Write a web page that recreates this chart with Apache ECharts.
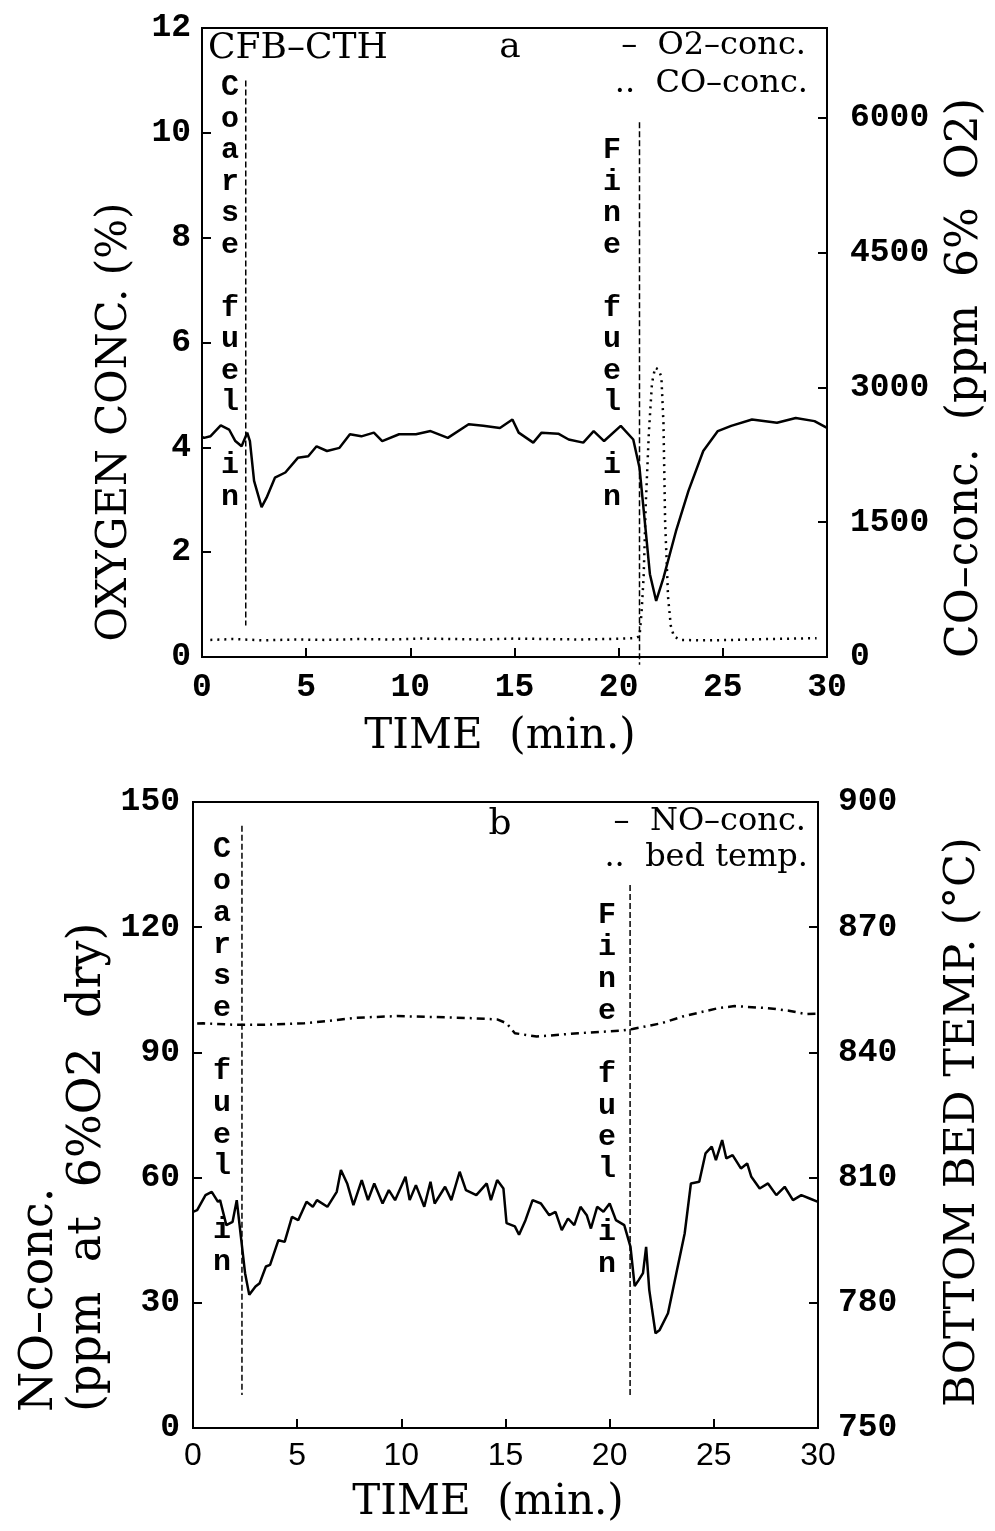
<!DOCTYPE html>
<html><head><meta charset="utf-8">
<script src="https://cdn.jsdelivr.net/npm/echarts@6/dist/echarts.min.js"></script>
<style>html,body{margin:0;padding:0;background:#fff}#c{width:995px;height:1531px}</style>
</head><body><div id="c"></div>
<script>
// ---------- DATA ----------
// Panel a: O2 concentration (%) vs time (min)
const o2Time  = [0,0.1,0.4,0.9,1.3,1.6,1.9,2.17,2.3,2.5,2.86,3.1,3.5,4.0,4.6,5.1,5.5,6.0,6.6,7.1,7.65,8.25,8.65,9.46,10.27,10.97,11.8,12.8,13.5,14.3,14.9,15.2,15.9,16.3,17.1,17.6,18.3,18.8,19.3,20.1,20.7,21.0,21.3,21.5,21.8,22.15,22.75,23.35,24.06,24.76,25.4,26.4,27.6,28.5,29.4,30.0];
const o2Value = [4.2,4.18,4.21,4.42,4.34,4.12,4.02,4.28,4.12,3.36,2.86,3.04,3.42,3.52,3.80,3.83,4.02,3.93,3.99,4.25,4.21,4.28,4.12,4.25,4.25,4.31,4.18,4.44,4.41,4.37,4.53,4.28,4.09,4.28,4.26,4.15,4.09,4.31,4.12,4.41,4.15,3.61,2.40,1.58,1.07,1.51,2.40,3.17,3.93,4.31,4.41,4.53,4.47,4.56,4.50,4.37];
// Panel a: CO concentration (ppm at 6% O2)
const coTime  = [0.4,1.5,3,4.5,6,7.5,9,10.5,12,13.5,15,16.5,18,19.5,20.8,21.0,21.1,21.2,21.3,21.45,21.6,21.75,21.9,22.05,22.15,22.23,22.37,22.5,22.65,22.95,24,25.5,27,28.5,29.5];
const coValue = [190,200,185,195,190,200,195,205,200,195,205,200,195,200,210,230,500,900,1700,2500,3050,3220,3200,3120,2600,1500,670,350,230,190,185,190,200,205,210];
// Fuel feed markers, panel a  [time, top, bottom]
const fuelTimeA   = [2.1, 21.0];
const fuelTopA    = [11.0, 10.2];
const fuelBottomA = [0.6, -0.15];

// Panel b: NO concentration (ppm at 6% O2 dry)
const noTime  = [0,0.2,0.6,0.9,1.2,1.3,1.6,1.9,2.1,2.3,2.5,2.7,3.0,3.2,3.5,3.7,4.1,4.4,4.75,5.05,5.45,5.75,5.95,6.45,6.9,7.1,7.4,7.7,8.1,8.4,8.7,9.1,9.4,9.7,10.2,10.4,10.7,11.1,11.4,11.6,12.1,12.4,12.8,13.1,13.6,14.1,14.3,14.6,14.9,15.05,15.45,15.65,15.96,16.3,16.7,17.1,17.4,17.7,18.0,18.3,18.6,18.9,19.1,19.4,19.7,20.0,20.3,20.7,21.0,21.2,21.4,21.6,21.75,21.9,22.2,22.4,22.8,23.2,23.6,23.9,24.3,24.6,24.9,25.1,25.4,25.6,25.9,26.3,26.6,26.8,27.2,27.6,28.0,28.4,28.8,29.2,29.6,30.0];
const noValue = [51.8,52.2,55.8,56.6,54.2,54.6,48.6,49.4,54.6,45.8,37.1,31.9,33.9,34.7,38.7,39.1,45.0,44.6,50.6,49.8,54.2,53.0,54.6,53.0,56.6,61.8,58.6,53.4,59.4,54.6,58.6,53.8,57.0,54.6,60.2,54.6,58.2,53.0,59.0,53.8,57.8,54.6,61.4,57.0,55.8,58.6,54.6,59.4,57.4,49.1,48.3,46.3,49.8,54.6,53.8,51.0,51.8,47.4,50.2,48.6,53.0,51.0,47.8,53.0,51.8,53.8,49.8,48.6,43.4,34.0,35.5,37.1,43.4,33.1,22.7,23.5,27.5,37.1,46.6,58.6,59.0,65.8,67.4,64.2,69.0,64.6,65.4,62.2,63.4,60.2,57.4,58.6,55.8,57.8,54.6,55.8,55.0,54.2];
// Panel b: bottom bed temperature (deg C)
const tempTime  = [0.2,0.5,2.1,3.3,5.35,6.4,7.8,9.8,11.4,13.4,14.6,15.05,15.45,16.5,18.5,20.5,21.1,22.5,23.5,25.2,26.0,27.6,28.6,29.4,30.0];
const tempValue = [846.9,846.97,846.6,846.6,847.0,847.5,848.3,848.7,848.5,848.2,847.9,847.0,844.6,843.8,844.6,845.2,845.6,847.0,848.6,850.6,851.1,850.6,850.0,849.2,849.3];
// Fuel feed markers, panel b
const fuelTimeB   = [2.35, 20.98];
const fuelTopB    = [144.3, 130.1];
const fuelBottomB = [7.9, 7.4];

// Tick settings
const xTicks = {min:0, max:30, interval:5};
const o2Axis = {min:0, max:12, interval:2};
const coAxis = {min:0, max:7000, interval:1500};
const noAxis = {min:0, max:150, interval:30};
const tAxis  = {min:750, max:900, interval:30};

// ---------- CHART ----------
const zip = (a,b) => a.map((v,i)=>[v,b[i]]);
const plain = v => String(v);
const monoBold = {fontFamily:'Liberation Mono', fontWeight:'bold', fontSize:33, color:'#000', formatter:plain};
const axisLineS = {show:true, lineStyle:{color:'#000', width:2}};
const tickS = {show:true, inside:true, length:9, lineStyle:{color:'#000', width:2}};

function fuelSeries(times, tops, bots, xi, yi) {
  return times.map((t,i)=>({
    type:'line', xAxisIndex:xi, yAxisIndex:yi, symbol:'none', clip:false, silent:true,
    data:[[t,tops[i]],[t,bots[i]]],
    lineStyle:{color:'#000', width:1.5, type:[6,3]}
  }));
}

const chart = echarts.init(document.getElementById('c'), null, {renderer:'canvas'});
chart.setOption({
  backgroundColor:'#fff',
  animation:false,
  grid:[
    {left:202, top:28, width:625, height:629, show:true, borderColor:'#000', borderWidth:2},
    {left:193, top:802, width:625, height:626, show:true, borderColor:'#000', borderWidth:2}
  ],
  xAxis:[
    {type:'value', gridIndex:0, ...xTicks, axisLine:axisLineS, axisTick:tickS, splitLine:{show:false},
     axisLabel:{...monoBold, margin:14}},
    {type:'value', gridIndex:1, ...xTicks, axisLine:axisLineS, axisTick:tickS, splitLine:{show:false},
     axisLabel:{fontFamily:'Liberation Sans', fontSize:32, color:'#000', margin:12, formatter:plain}}
  ],
  yAxis:[
    {type:'value', gridIndex:0, position:'left', ...o2Axis, axisLine:axisLineS, axisTick:tickS, splitLine:{show:false},
     axisLabel:{...monoBold, margin:11}},
    {type:'value', gridIndex:0, position:'right', ...coAxis, axisLine:axisLineS, axisTick:tickS, splitLine:{show:false},
     axisLabel:{...monoBold, margin:23, showMaxLabel:false}},
    {type:'value', gridIndex:1, position:'left', ...noAxis, axisLine:axisLineS, axisTick:tickS, splitLine:{show:false},
     axisLabel:{...monoBold, margin:13}},
    {type:'value', gridIndex:1, position:'right', ...tAxis, axisLine:axisLineS, axisTick:tickS, splitLine:{show:false},
     axisLabel:{...monoBold, margin:20}}
  ],
  series:[
    {type:'line', xAxisIndex:0, yAxisIndex:0, symbol:'none', data:zip(o2Time,o2Value),
     lineStyle:{color:'#000', width:2.5}},
    {type:'line', xAxisIndex:0, yAxisIndex:1, symbol:'none', data:zip(coTime,coValue),
     lineStyle:{color:'#000', width:2.5, type:[2,5]}},
    ...fuelSeries(fuelTimeA, fuelTopA, fuelBottomA, 0, 0),
    {type:'line', xAxisIndex:1, yAxisIndex:2, symbol:'none', data:zip(noTime,noValue),
     lineStyle:{color:'#000', width:2.5}},
    {type:'line', xAxisIndex:1, yAxisIndex:3, symbol:'none', data:zip(tempTime,tempValue),
     lineStyle:{color:'#000', width:2.5, type:[8,5,2,5]}},
    ...fuelSeries(fuelTimeB, fuelTopB, fuelBottomB, 1, 2)
  ],
  graphic:[
    // axis names
    {type:'text', x:115, y:422, rotation:Math.PI/2, style:{text:'OXYGEN CONC. (%)', x:0, y:0, align:'center', verticalAlign:'middle', font:'42px "DejaVu Serif"', fill:'#000'}},
    {type:'text', x:966, y:378, rotation:Math.PI/2, style:{text:'CO–conc.  (ppm  6%  O2)', x:0, y:0, align:'center', verticalAlign:'middle', font:'44px "DejaVu Serif"', fill:'#000'}},
    {type:'text', x:500, y:737, style:{text:'TIME  (min.)', x:0, y:0, align:'center', verticalAlign:'middle', font:'42px "DejaVu Serif"', fill:'#000'}},
    {type:'text', x:40, y:1412, rotation:Math.PI/2, style:{text:'NO–conc.', x:0, y:0, align:'left', verticalAlign:'middle', font:'46px "DejaVu Serif"', fill:'#000'}},
    {type:'text', x:88, y:1412, rotation:Math.PI/2, style:{text:'(ppm  at  6%O2  dry)', x:0, y:0, align:'left', verticalAlign:'middle', font:'46px "DejaVu Serif"', fill:'#000'}},
    {type:'text', x:963, y:1122, rotation:Math.PI/2, style:{text:'BOTTOM BED TEMP. (°C)', x:0, y:0, align:'center', verticalAlign:'middle', font:'43px "DejaVu Serif"', fill:'#000'}},
    {type:'text', x:488, y:1503, style:{text:'TIME  (min.)', x:0, y:0, align:'center', verticalAlign:'middle', font:'42px "DejaVu Serif"', fill:'#000'}},
    // panel a annotations
    {type:'text', x:208, y:49, style:{text:'CFB–CTH', x:0, y:0, align:'left', verticalAlign:'middle', font:'36px "DejaVu Serif"', fill:'#000'}},
    {type:'text', x:510, y:48, style:{text:'a', x:0, y:0, align:'center', verticalAlign:'middle', font:'36px "DejaVu Serif"', fill:'#000'}},
    {type:'text', x:806, y:46, style:{text:'–  O2–conc.', x:0, y:0, align:'right', verticalAlign:'middle', font:'32px "DejaVu Serif"', fill:'#000'}},
    {type:'text', x:808, y:84, style:{text:'..  CO–conc.', x:0, y:0, align:'right', verticalAlign:'middle', font:'32px "DejaVu Serif"', fill:'#000'}},
    {type:'text', x:230, y:72, style:{text:'C\no\na\nr\ns\ne\n\nf\nu\ne\nl\n\ni\nn', x:0, y:0, align:'center', verticalAlign:'top', lineHeight:31.5, font:'bold 30px "Liberation Mono"', fill:'#000'}},
    {type:'text', x:612, y:135, style:{text:'F\ni\nn\ne\n\nf\nu\ne\nl\n\ni\nn', x:0, y:0, align:'center', verticalAlign:'top', lineHeight:31.5, font:'bold 30px "Liberation Mono"', fill:'#000'}},
    // panel b annotations
    {type:'text', x:500, y:825, style:{text:'b', x:0, y:0, align:'center', verticalAlign:'middle', font:'36px "DejaVu Serif"', fill:'#000'}},
    {type:'text', x:806, y:822, style:{text:'–  NO–conc.', x:0, y:0, align:'right', verticalAlign:'middle', font:'32px "DejaVu Serif"', fill:'#000'}},
    {type:'text', x:808, y:858, style:{text:'..  bed temp.', x:0, y:0, align:'right', verticalAlign:'middle', font:'32px "DejaVu Serif"', fill:'#000'}},
    {type:'text', x:222, y:834, style:{text:'C\no\na\nr\ns\ne\n\nf\nu\ne\nl\n\ni\nn', x:0, y:0, align:'center', verticalAlign:'top', lineHeight:31.7, font:'bold 30px "Liberation Mono"', fill:'#000'}},
    {type:'text', x:607, y:900, style:{text:'F\ni\nn\ne\n\nf\nu\ne\nl\n\ni\nn', x:0, y:0, align:'center', verticalAlign:'top', lineHeight:31.7, font:'bold 30px "Liberation Mono"', fill:'#000'}}
  ]
});
</script></body></html>
